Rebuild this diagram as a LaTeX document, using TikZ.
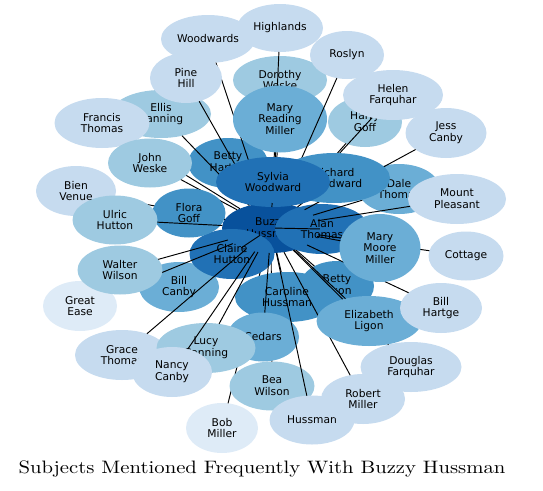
\documentclass[tikz,border=0pt]{standalone}
\usepackage{fontspec}
\newfontfamily\nodefont{DejaVu Sans}
\usetikzlibrary{shapes.geometric}
\definecolor{bA}{HTML}{DEEBF7}
\definecolor{bB}{HTML}{C6DBEF}
\definecolor{bC}{HTML}{9ECAE1}
\definecolor{bD}{HTML}{6BAED6}
\definecolor{bE}{HTML}{4292C6}
\definecolor{bF}{HTML}{2171B5}
\definecolor{bG}{HTML}{08519C}
\tikzset{
  nd/.style={ellipse, draw=none, inner sep=0pt, outer sep=0pt, align=center,
    font=\nodefont\fontsize{10.7}{11.7}\selectfont, text=black},
  sz/.style 2 args={minimum width=#1pt, minimum height=#2pt},
  edge/.style={draw=black, line width=0.95pt},
}
\begin{document}
\begin{tikzpicture}[x=1pt,y=-1pt]
\useasboundingbox (0,0) rectangle (543,490);
\node[nd, fill=bG, sz={98}{50}] (buzzy) at (271,228) {Buzzy\\Hussman};
\node[nd, fill=bA, sz={72}{50}] (bob) at (222,428) {Bob\\Miller};
\draw[edge] (buzzy) -- (bob);
\node[nd, fill=bC, sz={85}{49}] (bea) at (272,386) {Bea\\Wilson};
\draw[edge] (buzzy) -- (bea);
\node[nd, fill=bD, sz={80}{50}] (billcanby) at (179,287) {Bill\\Canby};
\draw[edge] (buzzy) -- (billcanby);
\node[nd, fill=bF, sz={85}{50}] (claire) at (232,254) {Claire\\Hutton};
\draw[edge] (buzzy) -- (claire);
\node[nd, fill=bE, sz={74}{50}] (bettyligon) at (337,286) {Betty\\Ligon};
\draw[edge] (buzzy) -- (bettyligon);
\node[nd, fill=bE, sz={104}{50}] (caroline) at (287,297) {Caroline\\Hussman};
\draw[edge] (buzzy) -- (caroline);
\node[nd, fill=bD, sz={72}{49}] (cedars) at (263,337) {Cedars};
\draw[edge] (buzzy) -- (cedars);
\node[nd, fill=bB, sz={85}{49}] (hussman) at (312,420) {Hussman};
\draw[edge] (buzzy) -- (hussman);
\node[nd, fill=bB, sz={101}{50}] (douglas) at (411,367) {Douglas\\Farquhar};
\draw[edge] (buzzy) -- (douglas);
\node[nd, fill=bB, sz={84}{50}] (robert) at (363,399) {Robert\\Miller};
\draw[edge] (buzzy) -- (robert);
\node[nd, fill=bD, sz={105}{50}] (elizabeth) at (369,321) {Elizabeth\\Ligon};
\draw[edge] (buzzy) -- (elizabeth);
\node[nd, fill=bF, sz={94}{50}] (alan) at (322,229) {Alan\\Thomas};
\draw[edge] (buzzy) -- (alan);
\node[nd, fill=bB, sz={82}{50}] (billhartge) at (441,308) {Bill\\Hartge};
\draw[edge] (buzzy) -- (billhartge);
\node[nd, fill=bB, sz={75}{49}] (cottage) at (466,256) {Cottage};
\draw[edge] (buzzy) -- (cottage);
\node[nd, fill=bD, sz={81}{68}] (mmm) at (380,248) {Mary\\Moore\\Miller};
\draw[edge] (buzzy) -- (mmm);
\node[nd, fill=bD, sz={82}{50}] (dale) at (399,189) {Dale\\Thomas};
\draw[edge] (buzzy) -- (dale);
\node[nd, fill=bB, sz={98}{50}] (mount) at (457,199) {Mount\\Pleasant};
\draw[edge] (buzzy) -- (mount);
\node[nd, fill=bB, sz={81}{50}] (jess) at (446,133) {Jess\\Canby};
\draw[edge] (buzzy) -- (jess);
\node[nd, fill=bC, sz={74}{50}] (harry) at (365,122) {Harry\\Goff};
\draw[edge] (buzzy) -- (harry);
\node[nd, fill=bC, sz={94}{48}] (dorothy) at (280,80) {Dorothy\\Weske};
\draw[edge] (buzzy) -- (dorothy);
\node[nd, fill=bE, sz={80}{50}] (bettyhartge) at (228,163) {Betty\\Hartge};
\draw[edge] (buzzy) -- (bettyhartge);
\node[nd, fill=bB, sz={94}{48}] (woodwards) at (208,39) {Woodwards};
\draw[edge] (buzzy) -- (woodwards);
\node[nd, fill=bB, sz={86}{48}] (highlands) at (280,28) {Highlands};
\draw[edge] (buzzy) -- (highlands);
\node[nd, fill=bD, sz={94}{67}] (mrm) at (280,119) {Mary\\Reading\\Miller};
\draw[edge] (buzzy) -- (mrm);
\node[nd, fill=bB, sz={74}{48}] (roslyn) at (347,55) {Roslyn};
\draw[edge] (buzzy) -- (roslyn);
\node[nd, fill=bB, sz={100}{50}] (helen) at (393,95) {Helen\\Farquhar};
\draw[edge] (buzzy) -- (helen);
\node[nd, fill=bC, sz={100}{48}] (ellis) at (161,114) {Ellis\\Canning};
\draw[edge] (buzzy) -- (ellis);
\node[nd, fill=bB, sz={72}{50}] (pinehill) at (186,78) {Pine\\Hill};
\draw[edge] (buzzy) -- (pinehill);
\node[nd, fill=bB, sz={95}{50}] (francis) at (102,123) {Francis\\Thomas};
\draw[edge] (buzzy) -- (francis);
\node[nd, fill=bC, sz={84}{49}] (john) at (150,163) {John\\Weske};
\draw[edge] (buzzy) -- (john);
\node[nd, fill=bE, sz={112}{50}] (richard) at (334,178) {Richard\\Woodward};
\draw[edge] (buzzy) -- (richard);
\node[nd, fill=bF, sz={114}{50}] (sylvia) at (273,182) {Sylvia\\Woodward};
\draw[edge] (buzzy) -- (sylvia);
\node[nd, fill=bB, sz={80}{50}] (bien) at (76,191) {Bien\\Venue};
\draw[edge] (buzzy) -- (bien);
\node[nd, fill=bE, sz={73}{49}] (flora) at (189,213) {Flora\\Goff};
\draw[edge] (buzzy) -- (flora);
\node[nd, fill=bC, sz={85}{49}] (ulric) at (115,220) {Ulric\\Hutton};
\draw[edge] (buzzy) -- (ulric);
\node[nd, fill=bA, sz={74}{50}] (great) at (80,306) {Great\\Ease};
\draw[edge] (buzzy) -- (great);
\node[nd, fill=bC, sz={85}{49}] (walter) at (120,270) {Walter\\Wilson};
\draw[edge] (buzzy) -- (walter);
\node[nd, fill=bB, sz={94}{50}] (grace) at (122,355) {Grace\\Thomas};
\draw[edge] (buzzy) -- (grace);
\node[nd, fill=bC, sz={99}{50}] (lucy) at (206,348) {Lucy\\Canning};
\draw[edge] (buzzy) -- (lucy);
\node[nd, fill=bB, sz={80}{50}] (nancy) at (172,372) {Nancy\\Canby};
\draw[edge] (buzzy) -- (nancy);
\node[anchor=base, inner sep=0pt] (title) at (262,473)
  {\scalebox{2.07}[1.8]{Subjects Mentioned Frequently With Buzzy Hussman}};
\end{tikzpicture}
\end{document}
